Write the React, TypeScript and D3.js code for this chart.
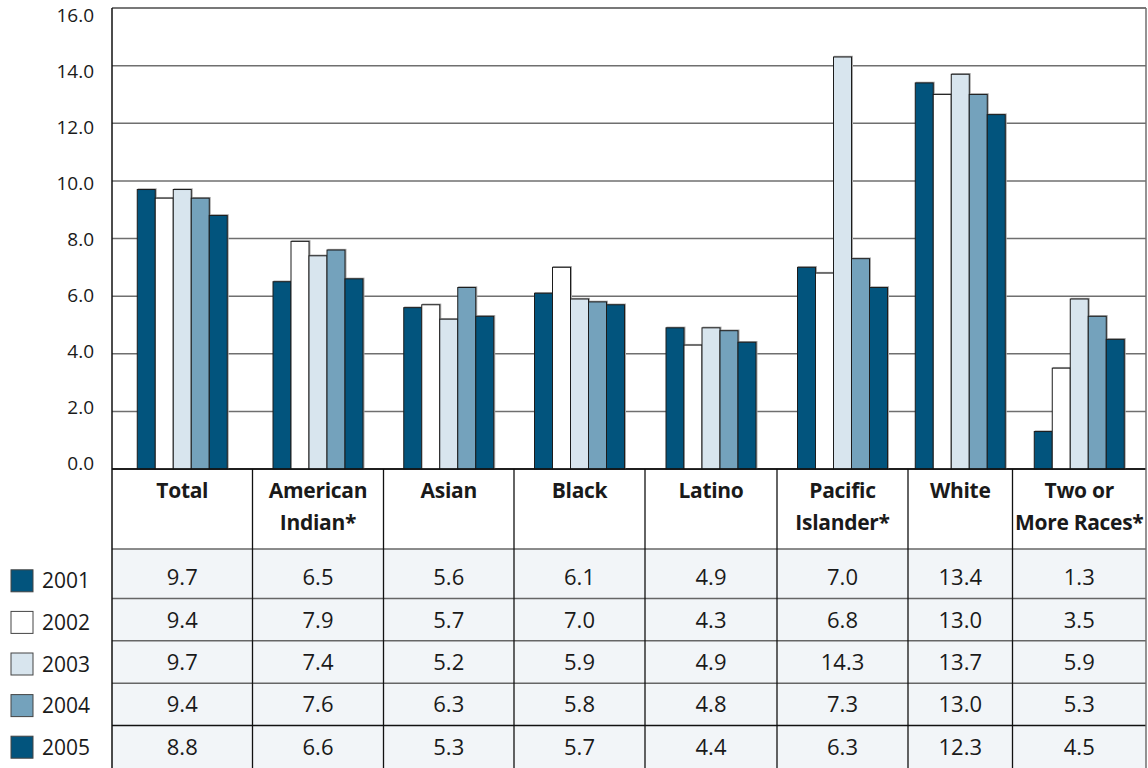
import { scaleLinear, scaleBand, cumsum } from "d3";

const W = 1148;
const H = 768;

// categories (header lines)
const categories: string[][] = [
  ["Total"],
  ["American", "Indian*"],
  ["Asian"],
  ["Black"],
  ["Latino"],
  ["Pacific", "Islander*"],
  ["White"],
  ["Two or", "More Races*"],
];

const years = ["2001", "2002", "2003", "2004", "2005"];

const values2001 = [9.7, 6.5, 5.6, 6.1, 4.9, 7.0, 13.4, 1.3];
const values2002 = [9.4, 7.9, 5.7, 7.0, 4.3, 6.8, 13.0, 3.5];
const values2003 = [9.7, 7.4, 5.2, 5.9, 4.9, 14.3, 13.7, 5.9];
const values2004 = [9.4, 7.6, 6.3, 5.8, 4.8, 7.3, 13.0, 5.3];
const values2005 = [8.8, 6.6, 5.3, 5.7, 4.4, 6.3, 12.3, 4.5];

const yTicks = [0, 2, 4, 6, 8, 10, 12, 14, 16];

const series = [values2001, values2002, values2003, values2004, values2005];
const colors = ["#02547d", "#ffffff", "#d8e5ee", "#74a2bc", "#02547d"];

// layout
const plotLeft = 112;
const plotRight = 1146;
const plotTop = 8;
const plotBottom = 469;
const headerBottom = 549;
const colWidths = [140.5, 131, 130.5, 131, 132, 131, 104.5, 133.5];
const colEdges = [plotLeft, ...Array.from(cumsum(colWidths), (d) => plotLeft + d)];
const groupWidth = 90;

const font = "'Open Sans', 'Noto Sans', sans-serif";
const textColor = "#1a1a1a";

export default function App() {
  const y = scaleLinear().domain([0, 16]).range([plotBottom, plotTop]);
  // labels sit slightly off the gridlines in the original
  const yLabel = scaleLinear().domain([0, 16]).range([463, 15.5]);

  const rowY = scaleBand<string>().domain(years).range([556, 768]);
  const legendY = scaleBand<string>().domain(years).range([560, 768]);

  return (
    <svg
      width={W}
      height={H}
      style={{ position: "absolute", left: 0, top: 0, background: "#fff" }}
      fontFamily={font}
    >
      {/* table data background */}
      <rect
        x={plotLeft}
        y={headerBottom}
        width={plotRight - plotLeft}
        height={H - headerBottom}
        fill="#f2f5f8"
      />

      {/* gridlines */}
      {yTicks.map((t) => (
        <line
          key={`grid-${t}`}
          x1={plotLeft}
          x2={plotRight}
          y1={y(t)}
          y2={y(t)}
          stroke={t === 0 ? "#111" : "#6f6f6f"}
          strokeWidth={1.5}
        />
      ))}

      {/* y tick labels */}
      {yTicks.map((t) => (
        <text
          key={`tick-${t}`}
          x={94}
          y={yLabel(t)}
          dy="0.36em"
          textAnchor="end"
          fontSize={19}
          fill={textColor}
        >
          {t.toFixed(1)}
        </text>
      ))}

      {/* bars */}
      {categories.map((cat, ci) => {
        const cx = (colEdges[ci] + colEdges[ci + 1]) / 2;
        const x = scaleBand<string>()
          .domain(years)
          .range([cx - groupWidth / 2, cx + groupWidth / 2]);
        return (
          <g key={`group-${ci}`}>
            {years.map((yr, si) => {
              const v = series[si][ci];
              const top = y(v);
              return (
                <rect
                  key={`shadow-${yr}`}
                  x={x(yr)! + 0.5}
                  y={top - 1.2}
                  width={x.bandwidth() + 1}
                  height={plotBottom - top + 1.2}
                  fill="#a8a8a8"
                />
              );
            })}
            {years.map((yr, si) => {
              const v = series[si][ci];
              const top = y(v);
              return (
                <rect
                  key={`bar-${yr}`}
                  x={x(yr)!}
                  y={top}
                  width={x.bandwidth()}
                  height={plotBottom - top}
                  fill={colors[si]}
                  stroke="#1c1c1c"
                  strokeWidth={1}
                />
              );
            })}
          </g>
        );
      })}

      {/* top border */}
      <line x1={plotLeft} x2={plotRight} y1={plotTop} y2={plotTop} stroke="#6f6f6f" strokeWidth={1.5} />
      {/* x axis line */}
      <line x1={plotLeft} x2={plotRight} y1={plotBottom} y2={plotBottom} stroke="#111" strokeWidth={1.5} />

      {/* table row lines */}
      <line x1={plotLeft} x2={plotRight} y1={headerBottom} y2={headerBottom} stroke="#666" strokeWidth={1.5} />
      {years.slice(1).map((yr, i) => (
        <line
          key={`row-${yr}`}
          x1={plotLeft}
          x2={plotRight}
          y1={rowY(yr)!}
          y2={rowY(yr)!}
          stroke={i === years.length - 2 ? "#111" : "#666"}
          strokeWidth={1.5}
        />
      ))}

      {/* table column lines */}
      {colEdges.slice(1, -1).map((e, i) => (
        <line key={`col-${i}`} x1={e} x2={e} y1={plotBottom} y2={H} stroke="#111" strokeWidth={1.3} />
      ))}

      {/* left / right borders */}
      <line x1={plotLeft} x2={plotLeft} y1={plotTop} y2={H} stroke="#111" strokeWidth={1.5} />
      <line x1={plotRight} x2={plotRight} y1={plotTop} y2={H} stroke="#6f6f6f" strokeWidth={1.5} />

      {/* header labels */}
      {categories.map((lines, ci) => {
        const cx = (colEdges[ci] + colEdges[ci + 1]) / 2;
        return (
          <text
            key={`head-${ci}`}
            x={cx}
            textAnchor="middle"
            fontSize={21}
            fontWeight={700}
            letterSpacing={-0.3}
            fill={textColor}
          >
            {lines.map((l, li) => (
              <tspan key={l} x={cx} y={497.5 + li * 32.3}>
                {l}
              </tspan>
            ))}
          </text>
        );
      })}

      {/* table values */}
      {years.map((yr, si) =>
        categories.map((_, ci) => {
          const cx = (colEdges[ci] + colEdges[ci + 1]) / 2;
          return (
            <text
              key={`val-${yr}-${ci}`}
              x={cx}
              y={rowY(yr)! + rowY.bandwidth() / 2}
              dy="0.36em"
              textAnchor="middle"
              fontSize={22}
              fill={textColor}
            >
              {series[si][ci].toFixed(1)}
            </text>
          );
        })
      )}

      {/* legend */}
      {years.map((yr, si) => {
        const cy = legendY(yr)! + legendY.bandwidth() / 2;
        return (
          <g key={`legend-${yr}`}>
            <rect x={11} y={cy - 11} width={22} height={22} fill={colors[si]} stroke="#444" strokeWidth={1} />
            <text x={42} y={cy} dy="0.36em" fontSize={21} fill={textColor}>
              {yr}
            </text>
          </g>
        );
      })}
    </svg>
  );
}
